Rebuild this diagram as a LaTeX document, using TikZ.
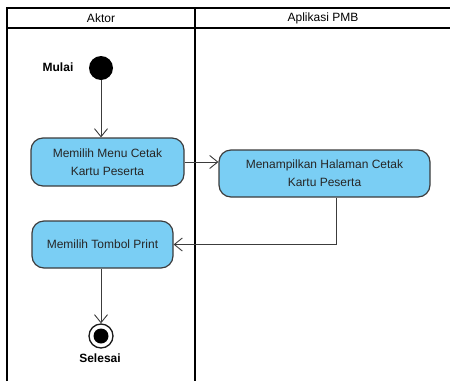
\documentclass[tikz,border=0pt]{standalone}
\usepackage{fontspec}
\setmainfont{Liberation Sans}
\usetikzlibrary{arrows.meta}
\definecolor{actblue}{RGB}{122,206,244}
\definecolor{edge}{RGB}{60,60,60}
\tikzset{
  lane/.style={draw=black, line width=1.8pt},
  action/.style={draw=edge, fill=actblue, rounded corners=12pt, line width=1.2pt,
    align=center, inner sep=0pt, text=black!85,
    font=\fontsize{12}{18}\selectfont},
  flow/.style={draw=edge, line width=0.9pt, -{Straight Barb[length=8pt,width=13pt,line width=0.9pt]}},
  lbl/.style={font=\fontsize{12}{14}\selectfont\bfseries, inner sep=0pt},
  hdr/.style={font=\fontsize{12}{14}\selectfont, inner sep=0pt}
}
\begin{document}
\begin{tikzpicture}[x=1pt,y=-1pt]
\useasboundingbox (0,0) rectangle (450,381);
% swimlanes
\draw[lane] (7,381) -- (7,8) -- (450,8);
\draw[lane] (7,28) -- (450,28);
\draw[lane] (195,8) -- (195,381);
\node[hdr] (h1) at (101,18) {Aktor};
\node[hdr] (h2) at (323,18) {Aplikasi PMB};
% start
\node[circle, fill=black, minimum size=24pt, inner sep=0pt] (start) at (101,68) {};
\node[lbl] (mulai) at (58,67) {Mulai};
% actions
\node[action, minimum width=153pt, minimum height=48pt] (a1) at (107.5,162) {Memilih Menu Cetak\\Kartu Peserta};
\node[action, minimum width=211pt, minimum height=47pt] (a2) at (324.5,173.5) {Menampilkan Halaman Cetak\\Kartu Peserta};
\node[action, minimum width=141pt, minimum height=47pt] (a3) at (102.5,244.5) {Memilih Tombol Print};
% end
\node[circle, draw=black!90, fill=white, line width=1.3pt, minimum size=24pt, inner sep=0pt] (end) at (101,336) {};
\node[circle, fill=black, minimum size=15pt, inner sep=0pt] (endin) at (end.center) {};
\node[lbl] (selesai) at (100,358) {Selesai};
% flows
\draw[flow] (start) -- (start |- a1.north);
\draw[flow] (a1.east) -- (a1.east -| a2.west);
\coordinate (a2out) at ([xshift=11.5pt]a2.south);
\draw[flow] (a2out) |- (a3.east);
\draw[flow] (a3.south -| end) -- (end.north);
\end{tikzpicture}
\end{document}
